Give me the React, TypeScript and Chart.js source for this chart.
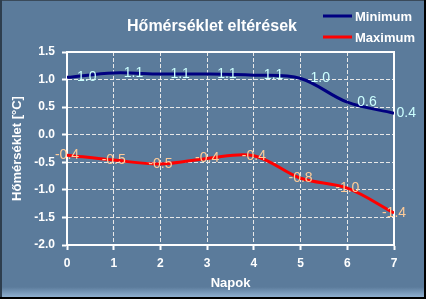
import React, { useEffect, useRef } from 'react';
import { Chart, registerables } from 'chart.js';

Chart.register(...registerables);

const titleText = 'Hőmérséklet eltérések';
const xTitle = 'Napok';
const yTitle = 'Hőmérséklet [°C]';
const days = [0, 1, 2, 3, 4, 5, 6, 7];
const minimum = [1.04, 1.12, 1.1, 1.1, 1.08, 1.02, 0.59, 0.39];
const maximum = [-0.37, -0.46, -0.53, -0.43, -0.38, -0.79, -0.97, -1.42];
const seriesNames = ['Minimum', 'Maximum'];
const seriesColors = ['#000080', '#FF0000'];
const labelColors = ['#CCFFFF', '#FFCC99'];

const FONT = '"Liberation Sans", Arial, sans-serif';
const BG = '#5B7B9B';

const decorPlugin = {
  id: 'decor',
  beforeDraw(chart: any) {
    const { ctx, width, height } = chart;
    ctx.save();
    ctx.fillStyle = BG;
    ctx.fillRect(0, 0, width, height);
    const g = ctx.createLinearGradient(0, height - 12, 0, height - 2);
    g.addColorStop(0, BG);
    g.addColorStop(1, '#8FAFCF');
    ctx.fillStyle = g;
    ctx.fillRect(0, height - 12, width, 10);
    ctx.fillStyle = '#3A4A5A';
    ctx.fillRect(0, 0, width, 1);
    ctx.fillStyle = '#2E3E4E';
    ctx.fillRect(0, 0, 2, height);
    ctx.fillStyle = '#000000';
    ctx.fillRect(width - 2, 0, 2, height);
    ctx.fillRect(0, height - 2, width, 2);
    ctx.restore();
  },
  beforeDatasetsDraw(chart: any) {
    const { ctx, chartArea } = chart;
    ctx.save();
    ctx.strokeStyle = '#FFFFFF';
    ctx.lineWidth = 2;
    ctx.strokeRect(chartArea.left, chartArea.top, chartArea.right - chartArea.left, chartArea.bottom - chartArea.top);
    ctx.restore();
  },
  afterDatasetsDraw(chart: any) {
    const { ctx, chartArea, width } = chart;
    ctx.save();
    // data labels
    ctx.font = `14px ${FONT}`;
    ctx.textBaseline = 'middle';
    chart.data.datasets.forEach((ds: any, di: number) => {
      const meta = chart.getDatasetMeta(di);
      meta.data.forEach((pt: any, i: number) => {
        const txt = Number(ds.data[i].y).toFixed(1);
        ctx.fillStyle = labelColors[di];
        if (di === 0) {
          const w = ctx.measureText(txt).width;
          let x = pt.x + 10;
          if (x + w > width - 10) x = width - 10 - w;
          ctx.textAlign = 'left';
          ctx.fillText(txt, x, pt.y);
        } else {
          ctx.textAlign = 'center';
          ctx.fillText(txt, pt.x, pt.y);
        }
      });
    });
    // title
    ctx.fillStyle = '#FFFFFF';
    ctx.textBaseline = 'alphabetic';
    ctx.textAlign = 'center';
    ctx.font = `bold 16px ${FONT}`;
    ctx.fillText(titleText, 212, 31);
    // legend
    ctx.font = `bold 13px ${FONT}`;
    ctx.textAlign = 'left';
    const ly = [16, 37];
    seriesNames.forEach((name, i) => {
      ctx.strokeStyle = seriesColors[i];
      ctx.lineWidth = 3;
      ctx.beginPath();
      ctx.moveTo(323, ly[i]);
      ctx.lineTo(352, ly[i]);
      ctx.stroke();
      ctx.fillStyle = '#FFFFFF';
      ctx.fillText(name, 355, ly[i] + 5);
    });
    // axis titles
    ctx.textAlign = 'center';
    ctx.fillText(xTitle, (chartArea.left + chartArea.right) / 2, 287);
    ctx.translate(21, (chartArea.top + chartArea.bottom) / 2);
    ctx.rotate(-Math.PI / 2);
    ctx.fillText(yTitle, 0, 0);
    ctx.restore();
  },
};

export default function App() {
  const ref = useRef<HTMLCanvasElement>(null);
  useEffect(() => {
    document.body.style.margin = '0';
    const tickFont = { family: FONT, size: 12, weight: 'bold' as const };
    const chart = new Chart(ref.current!, {
      type: 'line',
      data: {
        datasets: [
          {
            label: seriesNames[0],
            data: days.map((d, i) => ({ x: d, y: minimum[i] })),
            borderColor: seriesColors[0],
            borderWidth: 3,
            pointRadius: 0,
            tension: 0.35,
            fill: false,
          },
          {
            label: seriesNames[1],
            data: days.map((d, i) => ({ x: d, y: maximum[i] })),
            borderColor: seriesColors[1],
            borderWidth: 3,
            pointRadius: 0,
            tension: 0.35,
            fill: false,
          },
        ],
      },
      options: {
        animation: false,
        responsive: false,
        devicePixelRatio: 1,
        layout: { padding: { left: 0, right: 32, top: 52, bottom: 0 } },
        plugins: {
          legend: { display: false },
          title: { display: false },
          tooltip: { enabled: false },
        },
        scales: {
          x: {
            type: 'linear',
            min: 0,
            max: 7,
            afterFit: (s: any) => { s.height = 54; },
            ticks: { stepSize: 1, color: '#FFFFFF', font: tickFont, padding: 6, maxRotation: 0 },
            grid: { color: '#E8E8E8', lineWidth: 1, tickLength: 5, tickColor: '#FFFFFF', tickWidth: 2, tickBorderDash: [] },
            border: { color: '#FFFFFF', width: 2, dash: [4, 2] },
          },
          y: {
            min: -2,
            max: 1.5,
            afterFit: (s: any) => { s.width = 67; },
            ticks: {
              stepSize: 0.5,
              color: '#FFFFFF',
              font: tickFont,
              padding: 7,
              callback: (v: any) => Number(v).toFixed(1),
            },
            grid: { color: '#E8E8E8', lineWidth: 1, tickLength: 5, tickColor: '#FFFFFF', tickWidth: 2, tickBorderDash: [] },
            border: { color: '#FFFFFF', width: 2, dash: [4, 2] },
          },
        },
      },
      plugins: [decorPlugin],
    });
    return () => chart.destroy();
  }, []);
  return (
    <div style={{ width: 426, height: 299 }}>
      <canvas ref={ref} width={426} height={299} />
    </div>
  );
}
